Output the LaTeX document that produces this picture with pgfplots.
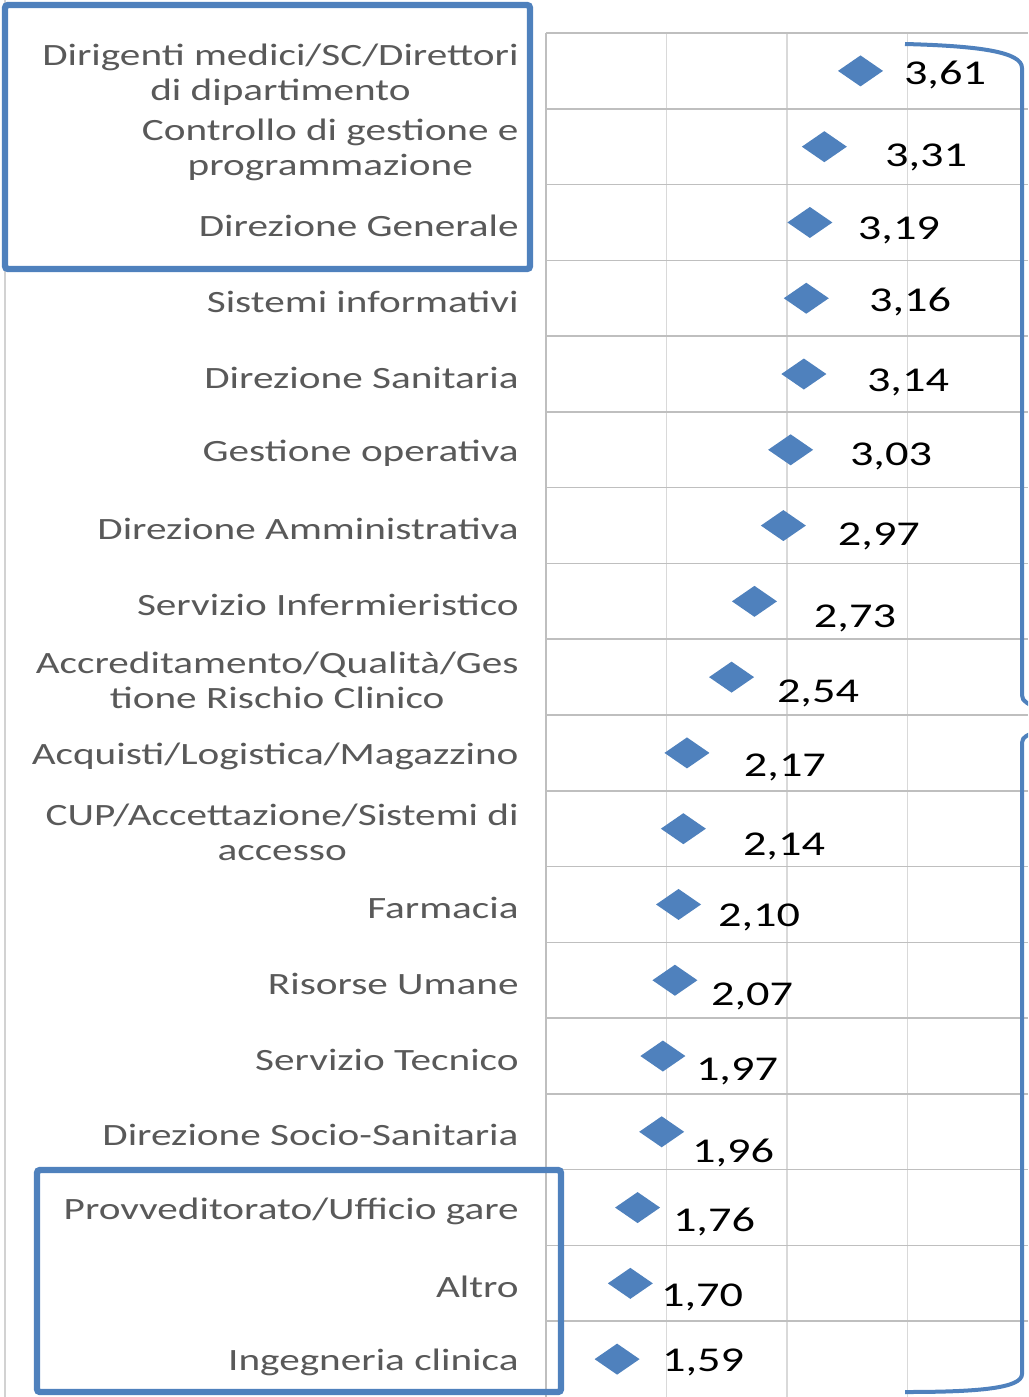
\documentclass[border=0pt]{standalone}
\usepackage{pgfplots}
\pgfplotsset{compat=1.18}
\usepackage{pgfplotstable}
\usepackage{fontspec}
\setmainfont{Carlito}
\newfontfamily\labfont[FakeStretch=1.33]{Carlito}
\definecolor{obl}{HTML}{4F81BD}
\definecolor{labc}{HTML}{595959}
\definecolor{hgrid}{HTML}{BFBFBF}
\definecolor{vgrid}{HTML}{D9D9D9}
\pgfdeclareplotmark{wdiam}{%
  \pgfpathmoveto{\pgfqpoint{0pt}{7.75pt}}%
  \pgfpathlineto{\pgfqpoint{11.25pt}{0pt}}%
  \pgfpathlineto{\pgfqpoint{0pt}{-7.75pt}}%
  \pgfpathlineto{\pgfqpoint{-11.25pt}{0pt}}%
  \pgfpathclose\pgfusepathqfill}
\pgfplotstableread{
row val lx ly lab
1 3.61 4.311 1.054 3,61
2 3.31 4.154 2.136 3,31
3 3.19 3.929 3.100 3,19
4 3.16 4.021 4.050 3,16
5 3.14 4.004 5.105 3,14
6 3.03 3.863 6.082 3,03
7 2.97 3.763 7.138 2,97
8 2.73 3.564 8.220 2,73
9 2.54 3.257 9.210 2,54
10 2.17 2.983 10.186 2,17
11 2.14 2.975 11.230 2,14
12 2.10 2.768 12.165 2,10
13 2.07 2.710 13.220 2,07
14 1.97 2.585 14.200 1,97
15 1.96 2.552 15.280 1,96
16 1.76 2.394 16.190 1,76
17 1.70 2.295 17.190 1,70
18 1.59 2.303 18.040 1,59
}\datatab
\begin{document}
\begin{tikzpicture}
\useasboundingbox (0,0) rectangle (514pt,-698.5pt);
\clip (0,0) rectangle (514pt,-698.5pt);
\draw[draw=hgrid!70, line width=0.6pt] (2.5pt,0) -- (2.5pt,-698.5pt);
\begin{axis}[at={(273pt,-16.5pt)}, anchor=north west, scale only axis,
  width=241pt, height=682pt,
  xmin=1, xmax=5, ymin=0.5, ymax=18.5, y dir=reverse,
  axis line style={draw=none},
  xtick={1,2,3,4}, xticklabels={},
  xmajorgrids, major grid style={vgrid, line width=0.7pt},
  ytick={1,...,18},
  minor ytick={0.5,1.5,...,17.5}, yminorgrids,
  minor grid style={hgrid, line width=0.8pt},
  major tick length=0pt, minor tick length=0pt,
  yticklabels={{Dirigenti medici/SC/Direttori\\di dipartimento},
    {Controllo di gestione e\\programmazione},
    {Direzione Generale},{Sistemi informativi},{Direzione Sanitaria},
    {Gestione operativa},{Direzione Amministrativa},{Servizio Infermieristico},
    {Accreditamento/Qualità/Ges\\tione Rischio Clinico},
    {Acquisti/Logistica/Magazzino},
    {CUP/Accettazione/Sistemi di\\accesso},
    {Farmacia},{Risorse Umane},{Servizio Tecnico},{Direzione Socio-Sanitaria},
    {Provveditorato/Ufficio gare},{Altro},{Ingegneria clinica}},
  yticklabel style={font=\labfont\fontsize{15.5}{17.5}\selectfont, text=labc,
    align=center, inner sep=0pt, xshift=-13.5pt, yshift=-1.8pt},
  clip=false]
\draw[hgrid, line width=0.8pt] (axis cs:1,0.5) -- (axis cs:1,18.5);
\addplot[only marks, mark=wdiam, color=obl] table[x=val, y=row]{\datatab};
\pgfplotsinvokeforeach{0,...,17}{%
  \pgfplotstablegetelem{#1}{lx}\of\datatab \let\lx\pgfplotsretval
  \pgfplotstablegetelem{#1}{ly}\of\datatab \let\ly\pgfplotsretval
  \pgfplotstablegetelem{#1}{lab}\of\datatab \let\vv\pgfplotsretval
  \edef\temp{\noexpand\node[anchor=center, inner sep=0pt, font=\noexpand\labfont\noexpand\fontsize{17.4}{20}\noexpand\selectfont, text=black] at (axis cs:\lx,\ly) {\vv};}
  \temp
}
\end{axis}
\draw[obl, line width=3.2pt, rounded corners=1.5pt] (2.5pt,-2.5pt) rectangle (265pt,-134.5pt);
\draw[obl, line width=3.2pt, rounded corners=1.5pt] (18.5pt,-585pt) rectangle (280.5pt,-696pt);
\draw[obl, line width=2pt] (452.5pt,-22pt) .. controls (490pt,-23pt) and (511pt,-26pt) .. (511pt,-34pt) -- (511pt,-345pt) .. controls (511pt,-350pt) .. (516pt,-353pt);
\draw[obl, line width=2pt] (516pt,-366.5pt) .. controls (511pt,-369pt) .. (511pt,-374pt) -- (511pt,-687pt) .. controls (511pt,-694pt) and (490pt,-696pt) .. (452.5pt,-696pt);
\end{tikzpicture}
\end{document}
